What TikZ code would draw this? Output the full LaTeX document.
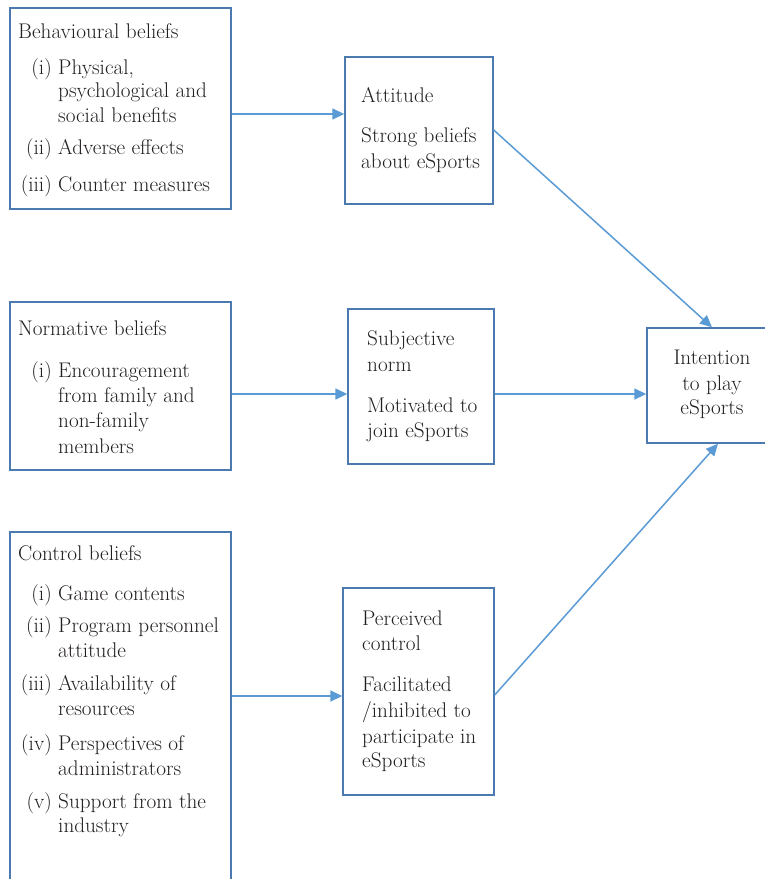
\documentclass[tikz,border=0pt]{standalone}
\usepackage{fontspec}
\usetikzlibrary{arrows.meta}
\definecolor{boxc}{HTML}{4A7AB0}
\definecolor{arrc}{HTML}{5B9BD5}
\definecolor{txtc}{HTML}{231F20}
\newcommand\dfont{\fontsize{21.2}{25}\selectfont}
\begin{document}
\begin{tikzpicture}[x=1pt,y=-1pt,
  box/.style={draw=boxc, line width=1.4pt, inner sep=0pt},
  arr/.style={draw=arrc, line width=1.5pt, -{Triangle[length=12pt,width=11pt]}},
  tl/.style={anchor=base west, inner sep=0pt, font=\dfont, text=txtc},
  lb/.style={anchor=base east, inner sep=0pt, font=\dfont, text=txtc},
  tc/.style={anchor=base, inner sep=0pt, font=\dfont, text=txtc}]
\clip (0,0) rectangle (765,879);
\fill[white] (0,0) rectangle (765,879);
% boxes
\node[box, minimum width=221pt, minimum height=201pt] (beh) at (120.5,108.5) {};
\node[box, minimum width=148pt, minimum height=147pt] (att) at (419,130.5) {};
\node[box, minimum width=221pt, minimum height=168pt] (norm) at (120.5,386) {};
\node[box, minimum width=146pt, minimum height=155pt] (subj) at (421,386.5) {};
\node[box, minimum width=221pt, minimum height=368pt] (ctrl) at (120.5,716) {};
\node[box, minimum width=151pt, minimum height=207pt] (perc) at (418.5,691.5) {};
\node[box, minimum width=130pt, minimum height=115pt] (int) at (712,385.5) {};
% connectors
\draw[arr] (beh.east |- 0,114) -- (att.west |- 0,114);
\draw[arr] (norm.east |- 0,394) -- (subj.west |- 0,394);
\draw[arr] (ctrl.east |- 0,696) -- (perc.west |- 0,696);
\draw[arr] (subj.east |- 0,394) -- (int.west |- 0,394);
\draw[arr] (att.east |- 0,130) -- (int.north);
\draw[arr] (perc.east |- 0,695) -- ([xshift=6pt]int.south);
% behavioural beliefs
\node[tl] (b0) at (18,38) {Behavioural beliefs};
\node[lb] (b1l) at (52,74) {(i)};
\node[tl] (b1a) at (58,74) {Physical,};
\node[tl] (b1b) at (58,97) {psychological and};
\node[tl] (b1c) at (58,122) {social benefits};
\node[lb] (b2l) at (52,154) {(ii)};
\node[tl] (b2a) at (58,154) {Adverse effects};
\node[lb] (b3l) at (52,191) {(iii)};
\node[tl] (b3a) at (58,191) {Counter measures};
% attitude
\node[tl] (a0) at (361,102) {Attitude};
\node[tl] (a1) at (361,142) {Strong beliefs};
\node[tl] (a2) at (361,168) {about eSports};
% normative beliefs
\node[tl] (n0) at (18,335) {Normative beliefs};
\node[lb] (n1l) at (52,377) {(i)};
\node[tl] (n1a) at (58,377) {Encouragement};
\node[tl] (n1b) at (58,402) {from family and};
\node[tl] (n1c) at (58,427) {non-family};
\node[tl] (n1d) at (58,453) {members};
% subjective norm
\node[tl] (s0) at (367,345) {Subjective};
\node[tl] (s1) at (367,371) {norm};
\node[tl] (s2) at (367,412) {Motivated to};
\node[tl] (s3) at (367,437) {join eSports};
% intention
\node[tc] (i0) at (712,364) {Intention};
\node[tc] (i1) at (712,390) {to play};
\node[tc] (i2) at (712,414) {eSports};
% control beliefs
\node[tl] (c0) at (18,560) {Control beliefs};
\node[lb] (c1l) at (52,600) {(i)};
\node[tl] (c1a) at (58,600) {Game contents};
\node[lb] (c2l) at (52,632) {(ii)};
\node[tl] (c2a) at (58,632) {Program personnel};
\node[tl] (c2b) at (58,657) {attitude};
\node[lb] (c3l) at (52,690) {(iii)};
\node[tl] (c3a) at (58,690) {Availability of};
\node[tl] (c3b) at (58,715) {resources};
\node[lb] (c4l) at (52,750) {(iv)};
\node[tl] (c4a) at (58,750) {Perspectives of};
\node[tl] (c4b) at (58,775) {administrators};
\node[lb] (c5l) at (52,808) {(v)};
\node[tl] (c5a) at (58,808) {Support from the};
\node[tl] (c5b) at (58,832) {industry};
% perceived control
\node[tl] (p0) at (362,625) {Perceived};
\node[tl] (p1) at (362,650) {control};
\node[tl] (p2) at (362,691) {Facilitated};
\node[tl] (p3) at (362,717) {/inhibited to};
\node[tl] (p4) at (362,743) {participate in};
\node[tl] (p5) at (362,767) {eSports};
\end{tikzpicture}
\end{document}
